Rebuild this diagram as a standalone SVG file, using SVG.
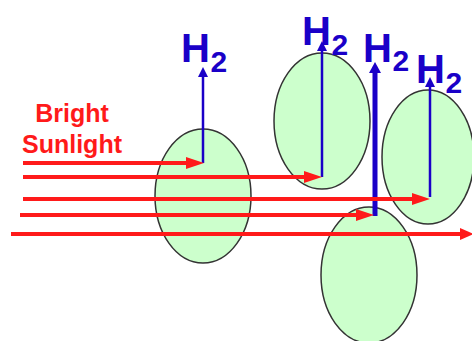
<svg xmlns="http://www.w3.org/2000/svg" width="472" height="341" viewBox="0 0 472 341">
<style>
.cell{fill:#ccffcc;stroke:#333;stroke-width:1.5}
.h2{fill:#1a00c8;stroke:none}
.bl{stroke:#1a00c8;fill:none}
.rl{stroke:#ff1a1a;stroke-width:4;fill:none}
.rh{fill:#ff1a1a}
.lab{font-family:"Liberation Sans",Arial,sans-serif;font-weight:bold}
.hl{font-size:40px;fill:#1a00c8}
.sub{font-size:30px;fill:#1a00c8}
.sun{font-size:25px;fill:#ff1a1a}
</style>
<rect width="472" height="341" fill="#fff"/>
<g id="cell1"><ellipse class="cell" cx="203" cy="196" rx="48" ry="67"/></g>
<g id="cell2"><ellipse class="cell" cx="322" cy="121" rx="48" ry="68"/></g>
<g id="cell3"><ellipse class="cell" cx="428" cy="157" rx="46" ry="67"/></g>
<g id="cell4"><ellipse class="cell" cx="369" cy="275" rx="48" ry="68"/></g>
<g id="label-sunlight" class="lab sun">
<text x="72" y="122" text-anchor="middle">Bright</text>
<text x="72" y="153" text-anchor="middle">Sunlight</text>
</g>
<g id="h2-1" class="lab"><text class="hl" x="181" y="62">H<tspan class="sub" x="210.5" y="72">2</tspan></text></g>
<g id="h2-2" class="lab"><text class="hl" x="302" y="45">H<tspan class="sub" x="331.5" y="55">2</tspan></text></g>
<g id="h2-3" class="lab"><text class="hl" x="363" y="62">H<tspan class="sub" x="392.5" y="71">2</tspan></text></g>
<g id="h2-4" class="lab"><text class="hl" x="416" y="83">H<tspan class="sub" x="445.5" y="93">2</tspan></text></g>
<g id="connectors">
<line class="bl" x1="203" y1="163" x2="203" y2="76" stroke-width="2.5"/>
<polygon class="h2" points="203,67 198,77 208,77"/>
<line class="bl" x1="322" y1="177" x2="322" y2="50" stroke-width="2.5"/>
<polygon class="h2" points="322,41 317,51 327,51"/>
<line class="bl" x1="375" y1="216" x2="375" y2="72" stroke-width="5"/>
<polygon class="h2" points="375,62 369,73 381,73"/>
<line class="bl" x1="430" y1="197" x2="430" y2="86" stroke-width="2.5"/>
<polygon class="h2" points="430,77 425,87 435,87"/>
<line class="rl" x1="23" y1="163" x2="188" y2="163"/>
<polygon class="rh" points="204,163 186,157 186,169"/>
<line class="rl" x1="23" y1="177" x2="306" y2="177"/>
<polygon class="rh" points="322,177 304,171 304,183"/>
<line class="rl" x1="23" y1="199" x2="414" y2="199"/>
<polygon class="rh" points="430,199 412,193 412,205"/>
<line class="rl" x1="20" y1="215" x2="358" y2="215"/>
<polygon class="rh" points="374,215 356,209 356,221"/>
<line class="rl" x1="11" y1="234" x2="462" y2="234"/>
<polygon class="rh" points="474,234 460,228 460,240"/>
</g>
</svg>
